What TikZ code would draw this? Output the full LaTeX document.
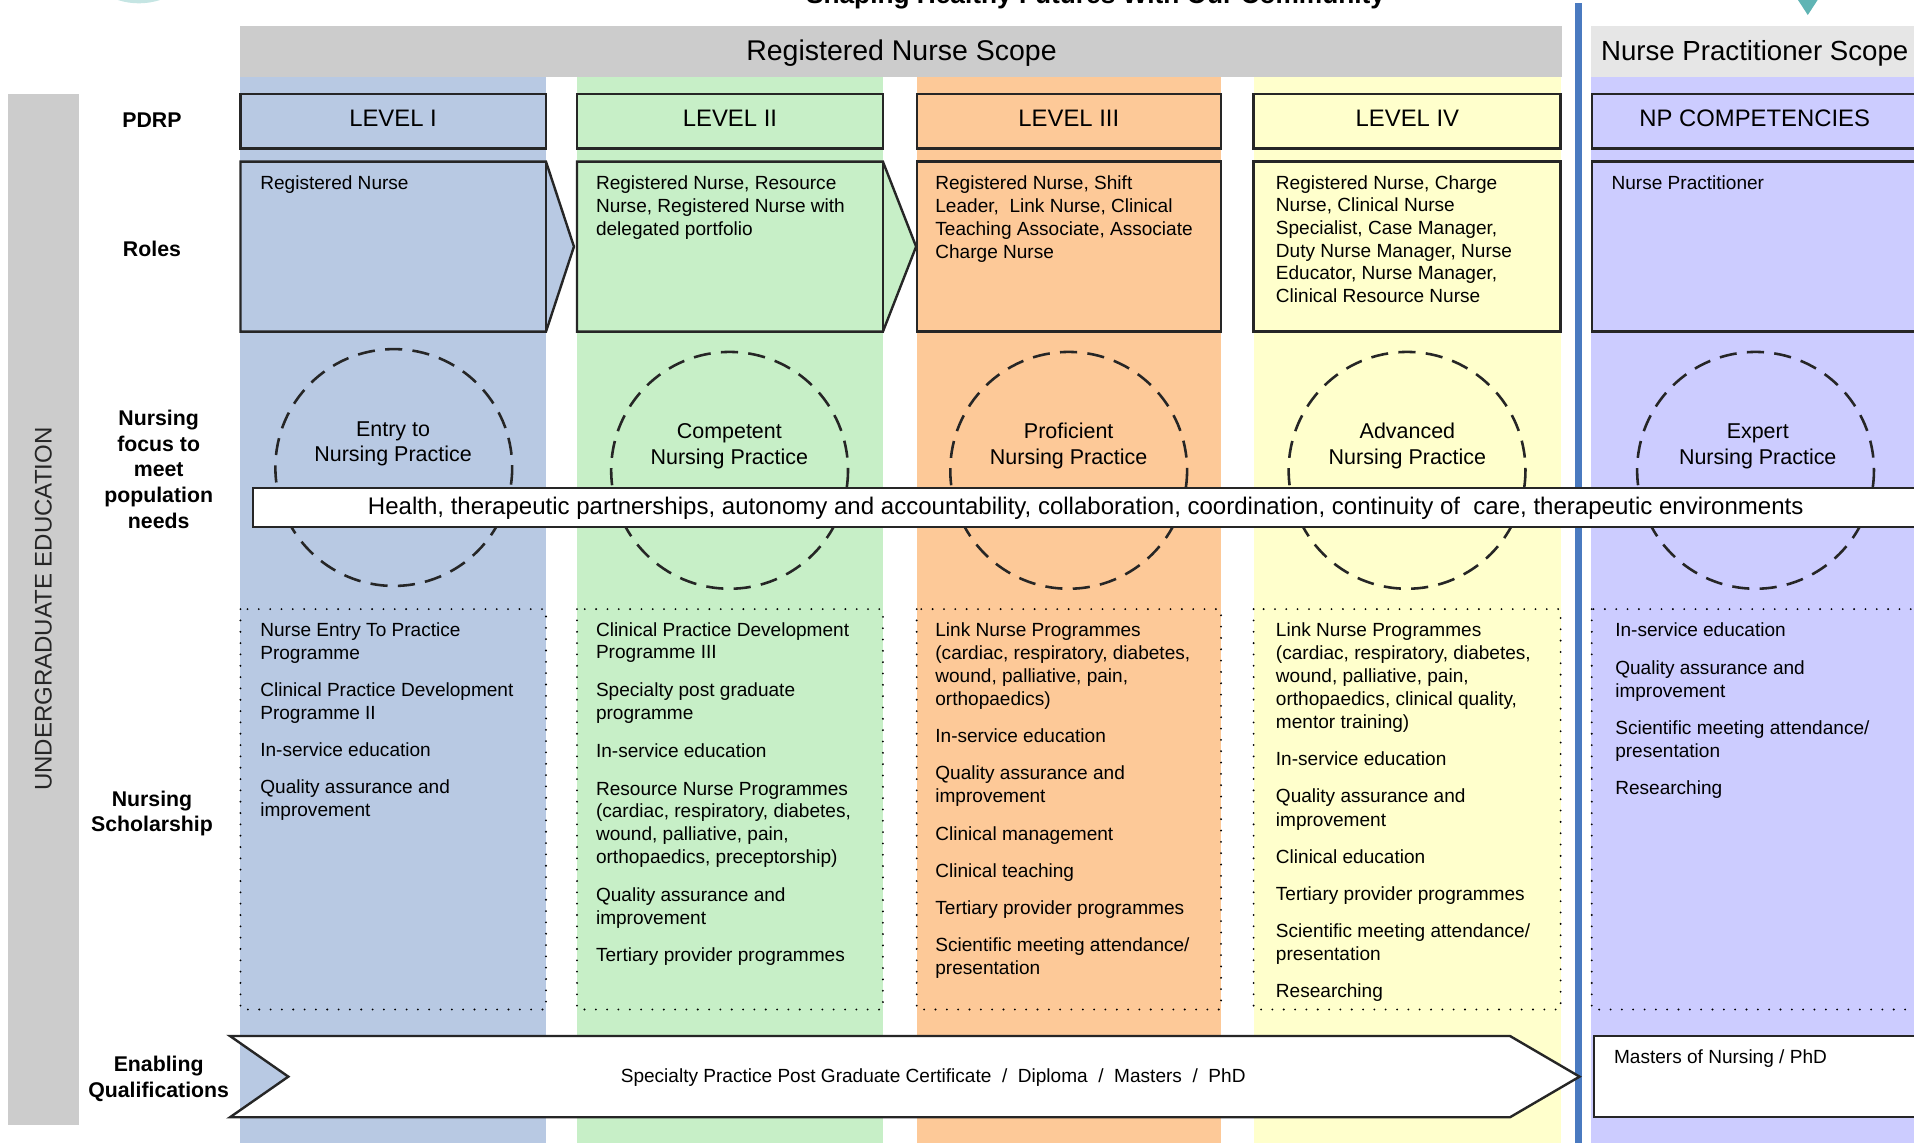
\documentclass[tikz,border=0pt]{standalone}
\usepackage{fontspec}
\setmainfont{Liberation Sans}

\definecolor{colI}{HTML}{B8C9E3}
\definecolor{colII}{HTML}{C7EFC7}
\definecolor{colIII}{HTML}{FDC998}
\definecolor{colIV}{HTML}{FFFFCC}
\definecolor{colNP}{HTML}{CCCCFF}
\definecolor{scopegray}{HTML}{CCCCCC}
\definecolor{npgray}{HTML}{E6E6E6}
\definecolor{divider}{HTML}{4A7AC0}
\definecolor{tealtri}{HTML}{5FB4B4}
\definecolor{tealdisc}{HTML}{C5E5E3}

\newcommand{\smalltxt}{\fontsize{11.1}{13.5}\selectfont}
\newcommand{\circtxt}{\fontsize{12.5}{14.9}\selectfont}
\newcommand{\rowtxt}{\fontsize{12.4}{14.9}\selectfont\bfseries}

\begin{document}
\begin{tikzpicture}[x=0.025cm, y=-0.025cm,
    boxline/.style={black!85, line width=1.4pt},
    rowlabel/.style={align=center, font=\rowtxt},
    lvltext/.style={font=\fontsize{13.9}{16}\selectfont},
    toptext/.style={anchor=north west, align=left, inner sep=0pt, font=\smalltxt},
    ringtext/.style={align=center, font=\circtxt},
    focusring/.style={black!85, line width=1.5pt, dash pattern=on 10pt off 6pt},
    dotbox/.style={line width=1.2pt, line cap=round, dash pattern=on 0pt off 6.6pt}]

  \useasboundingbox (0,0) rectangle (1568,936);
  \clip (0,0) rectangle (1568,936);

  % columns and headers
  \fill[colI] (197,62.8) rectangle (447.3,940);
  \fill[colII] (472.7,62.8) rectangle (723.3,940);
  \fill[colIII] (751,62.8) rectangle (1000.3,940);
  \fill[colIV] (1027,62.8) rectangle (1279,940);
  \fill[colNP] (1303,62.8) rectangle (1580,940);

  \fill[scopegray] (197,21.3) rectangle (1279.6,62.8);
  \fill[npgray] (1303,21.3) rectangle (1580,62.8);
  \fill[divider] (1290,2.2) rectangle (1295.7,940);
  \fill[scopegray] (6.5,77) rectangle (65,921.6);

  \fill[tealdisc] (113.8,-53.4) circle[radius=56.1];
  \fill[tealtri] (1469.7,-5) -- (1492.3,-5) -- (1481,12.3) -- cycle;
  \node[anchor=base, font=\fontsize{15.3}{18}\selectfont\bfseries] (title) at (897.5,2.5) {Shaping Healthy Futures With Our Community};

  \node[font=\fontsize{16.6}{20}\selectfont] (rnscope) at (738.5,43.3) {Registered Nurse Scope};
  \node[font=\fontsize{16.1}{20}\selectfont] (npscope) at (1437.5,43.3) {Nurse Practitioner Scope};
  \node[rotate=90, font=\fontsize{14}{16}\selectfont, text=black!85] (ugrad) at (35.5,499) {UNDERGRADUATE EDUCATION};

  % row labels
  \node[rowlabel] (pdrp) at (124.5,98.5) {PDRP};
  \node[rowlabel] (roles) at (124.5,203.5) {Roles};
  \node[rowlabel] (focus) at (130,384.5) {Nursing\\focus to\\meet\\population\\needs};
  \node[rowlabel] (schol) at (124.5,666.5) {Nursing\\Scholarship};
  \node[rowlabel] (enabl) at (130,884) {Enabling\\Qualifications};

  % PDRP levels
  \draw[boxline, fill=colI] (197,77) rectangle (447.3,121.5);
  \draw[boxline, fill=colII] (472.7,77) rectangle (723.3,121.5);
  \draw[boxline, fill=colIII] (751,77) rectangle (1000.3,121.5);
  \draw[boxline, fill=colIV] (1027,77) rectangle (1278.5,121.5);
  \draw[boxline, fill=colNP] (1304,77) rectangle (1580,121.5);
  \node[lvltext] (lvlI) at (322,96.5) {LEVEL I};
  \node[lvltext] (lvlII) at (598,96.5) {LEVEL II};
  \node[lvltext] (lvlIII) at (875.6,96.5) {LEVEL III};
  \node[lvltext] (lvlIV) at (1153,96.5) {LEVEL IV};
  \node[lvltext] (lvlNP) at (1437.5,96.5) {NP COMPETENCIES};

  % roles
  \draw[boxline, fill=colI] (197,132.4) -- (447.3,132.4) -- (470.2,202) -- (447.3,271.7) -- (197,271.7) -- cycle;
  \draw[boxline] (447.3,132.4) -- (447.3,271.7);
  \draw[boxline, fill=colII] (472.7,132.4) -- (723.3,132.4) -- (750.5,202) -- (723.3,271.7) -- (472.7,271.7) -- cycle;
  \draw[boxline] (723.3,132.4) -- (723.3,271.7);
  \draw[boxline, fill=colIII] (751,132.4) rectangle (1000.3,271.7);
  \draw[boxline, fill=colIV] (1027,132.4) rectangle (1278.5,271.7);
  \draw[boxline, fill=colNP] (1304,132.4) rectangle (1580,271.7);

  \node[toptext] (roleI) at (213,143.5) {Registered Nurse};
  \node[toptext] (roleII) at (488,143.5) {Registered Nurse, Resource\\Nurse, Registered Nurse with\\delegated portfolio};
  \node[toptext] (roleIII) at (766,143.5) {Registered Nurse, Shift\\Leader,\ \ Link Nurse, Clinical\\Teaching Associate, Associate\\Charge Nurse};
  \node[toptext, font=\fontsize{11.1}{13.2}\selectfont] (roleIV) at (1045,143.5) {Registered Nurse, Charge\\Nurse, Clinical Nurse\\Specialist, Case Manager,\\Duty Nurse Manager, Nurse\\Educator, Nurse Manager,\\Clinical Resource Nurse};
  \node[toptext] (roleNP) at (1320,143.5) {Nurse Practitioner};

  % focus of practice
  \draw[focusring] (322.6,383) circle[radius=97];
  \draw[focusring] (597.7,385.3) circle[radius=97];
  \draw[focusring] (875.5,385.3) circle[radius=97];
  \draw[focusring] (1152.7,385.3) circle[radius=97];
  \draw[focusring] (1438.2,385.3) circle[radius=97];
  \node[ringtext] (ringI) at (322,363.5) {Entry to\\Nursing Practice};
  \node[ringtext] (ringII) at (597.5,365.5) {Competent\\Nursing Practice};
  \node[ringtext] (ringIII) at (875.5,365.5) {Proficient\\Nursing Practice};
  \node[ringtext] (ringIV) at (1153,365.5) {Advanced\\Nursing Practice};
  \node[ringtext] (ringNP) at (1440,365.5) {Expert\\Nursing Practice};

  \draw[boxline, fill=white] (207.5,400) rectangle (1580,431.5);
  \node[font=\fontsize{14}{16}\selectfont] (band) at (889.5,416.5) {Health, therapeutic partnerships, autonomy and accountability, collaboration, coordination, continuity of\ \ care, therapeutic environments};

  % scholarship
  \draw[dotbox] (197,499) rectangle (447.3,827);
  \draw[dotbox] (472.7,499) rectangle (723.3,827);
  \draw[dotbox] (751,499) rectangle (1000.3,827);
  \draw[dotbox] (1027,499) rectangle (1278.5,827);
  \draw[dotbox] (1304,499) rectangle (1580,827);

  \node[toptext] (scholI) at (213,509.5) {Nurse Entry To Practice\\Programme\\[8.1pt]Clinical Practice Development\\Programme II\\[8.1pt]In-service education\\[8.1pt]Quality assurance and\\improvement};
  \node[toptext, font=\fontsize{11.1}{13.3}\selectfont] (scholII) at (488,509.5) {Clinical Practice Development\\Programme III\\[8.7pt]Specialty post graduate\\programme\\[8.7pt]In-service education\\[8.7pt]Resource Nurse Programmes\\(cardiac, respiratory, diabetes,\\wound, palliative, pain,\\orthopaedics, preceptorship)\\[8.7pt]Quality assurance and\\improvement\\[8.7pt]Tertiary provider programmes};
  \node[toptext] (scholIII) at (766,509.5) {Link Nurse Programmes\\(cardiac, respiratory, diabetes,\\wound, palliative, pain,\\orthopaedics)\\[8.1pt]In-service education\\[8.1pt]Quality assurance and\\improvement\\[8.1pt]Clinical management\\[8.1pt]Clinical teaching\\[8.1pt]Tertiary provider programmes\\[8.1pt]Scientific meeting attendance/\\presentation};
  \node[toptext] (scholIV) at (1045,509.5) {Link Nurse Programmes\\(cardiac, respiratory, diabetes,\\wound, palliative, pain,\\orthopaedics, clinical quality,\\mentor training)\\[8.1pt]In-service education\\[8.1pt]Quality assurance and\\improvement\\[8.1pt]Clinical education\\[8.1pt]Tertiary provider programmes\\[8.1pt]Scientific meeting attendance/\\presentation\\[8.1pt]Researching};
  \node[toptext] (scholNP) at (1323,509.5) {In-service education\\[8.6pt]Quality assurance and\\improvement\\[8.1pt]Scientific meeting attendance/\\presentation\\[8.1pt]Researching};

  % enabling qualifications
  \draw[boxline, fill=white] (188.4,848.7) -- (1237,848.7) -- (1294,882) -- (1237,915.3) -- (188.4,915.3) -- (236.2,882) -- cycle;
  \node[font=\smalltxt] (quals) at (764.5,883) {Specialty Practice Post Graduate Certificate~~/~~Diploma~~/~~Masters~~/~~PhD};
  \draw[boxline, fill=white] (1306,848.7) rectangle (1580,915.3);
  \node[toptext] (qualsNP) at (1322,860) {Masters of Nursing / PhD};
\end{tikzpicture}
\end{document}
